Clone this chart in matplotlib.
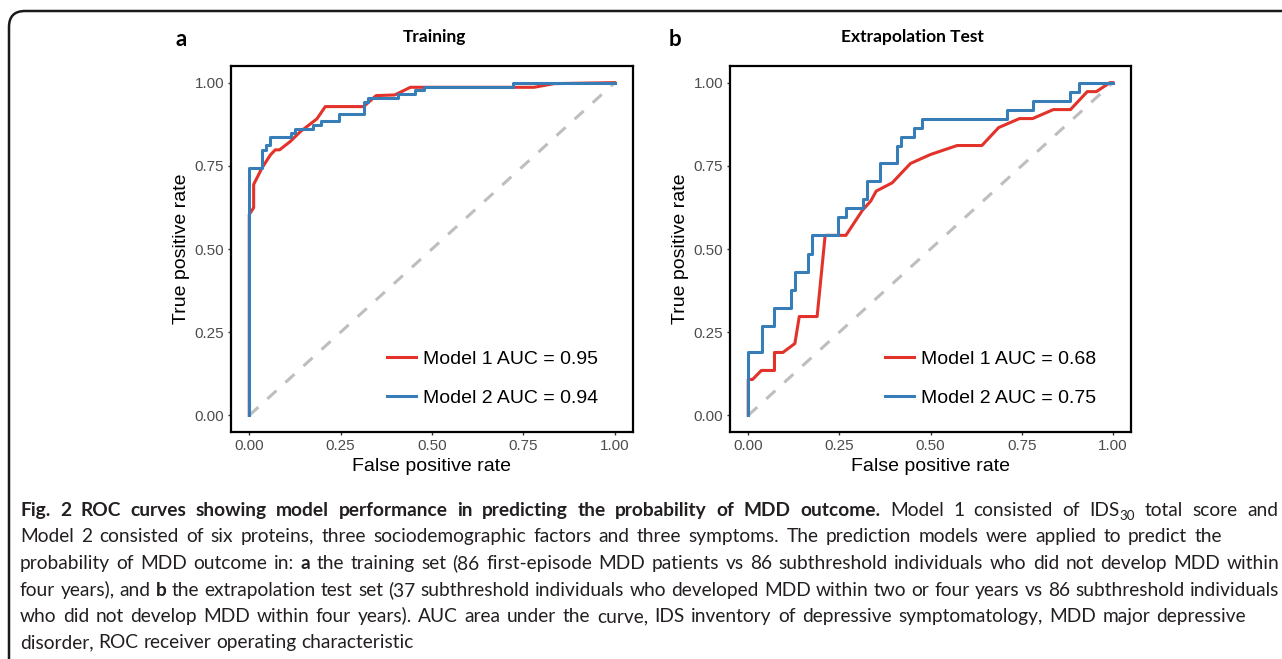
import math
import matplotlib
matplotlib.use("Agg")
import matplotlib.pyplot as plt
from matplotlib.patches import FancyBboxPatch
from matplotlib.transforms import IdentityTransform
from matplotlib.font_manager import FontProperties
from matplotlib.backends.backend_agg import get_hinting_flag

# ROC points (false positive rate, true positive rate)
train_m1_fpr = [0, 0, 0.012, 0.012, 0.035, 0.058, 0.071, 0.083, 0.112, 0.140, 0.185, 0.208,
                0.313, 0.347, 0.398, 0.441, 0.779, 0.834, 1.0]
train_m1_tpr = [0, 0.604, 0.624, 0.694, 0.744, 0.783, 0.798, 0.798, 0.823, 0.853, 0.891, 0.928,
                0.928, 0.961, 0.963, 0.986, 0.986, 0.997, 1.0]
train_m2_fpr = [0, 0, 0.035, 0.035, 0.046, 0.046, 0.058, 0.058, 0.115, 0.115, 0.126, 0.126,
                0.174, 0.174, 0.197, 0.197, 0.245, 0.245, 0.315, 0.315, 0.324, 0.324,
                0.407, 0.407, 0.453, 0.453, 0.478, 0.478, 0.721, 0.721, 1.0]
train_m2_tpr = [0, 0.744, 0.744, 0.798, 0.798, 0.813, 0.813, 0.837, 0.837, 0.849, 0.849, 0.860,
                0.860, 0.872, 0.872, 0.884, 0.884, 0.907, 0.907, 0.942, 0.942, 0.953,
                0.953, 0.965, 0.965, 0.977, 0.977, 0.988, 0.988, 1.0, 1.0]

test_m1_fpr = [0, 0, 0.012, 0.036, 0.072, 0.072, 0.095, 0.128, 0.140, 0.189, 0.211, 0.268,
               0.313, 0.336, 0.351, 0.395, 0.445, 0.500, 0.573, 0.641, 0.687, 0.744, 0.780,
               0.837, 0.884, 0.930, 0.955, 0.992, 1.0]
test_m1_tpr = [0, 0.108, 0.108, 0.135, 0.135, 0.189, 0.189, 0.216, 0.297, 0.297, 0.541, 0.541,
               0.616, 0.644, 0.674, 0.699, 0.757, 0.784, 0.811, 0.811, 0.865, 0.892, 0.892,
               0.919, 0.919, 0.973, 0.973, 1.0, 1.0]
test_m2_fpr = [0, 0, 0.037, 0.037, 0.072, 0.072, 0.117, 0.117, 0.128, 0.128, 0.165, 0.165,
               0.176, 0.176, 0.245, 0.245, 0.268, 0.268, 0.316, 0.316, 0.327, 0.327,
               0.361, 0.361, 0.409, 0.409, 0.420, 0.420, 0.454, 0.454, 0.478, 0.478,
               0.709, 0.709, 0.780, 0.780, 0.884, 0.884, 0.907, 0.907, 1.0]
test_m2_tpr = [0, 0.189, 0.189, 0.270, 0.270, 0.324, 0.324, 0.378, 0.378, 0.432, 0.432, 0.486,
               0.486, 0.541, 0.541, 0.595, 0.595, 0.622, 0.622, 0.649, 0.649, 0.703,
               0.703, 0.757, 0.757, 0.811, 0.811, 0.838, 0.838, 0.865, 0.865, 0.892,
               0.892, 0.919, 0.919, 0.946, 0.946, 0.973, 0.973, 1.0, 1.0]

train_auc = [0.95, 0.94]
test_auc = [0.68, 0.75]
tick_values = [0, 0.25, 0.5, 0.75, 1.0]
tick_labels = ['0.00', '0.25', '0.50', '0.75', '1.00']

red = '#E2322A'
blue = '#377EB8'

W, H = 1282, 659
fig = plt.figure(figsize=(W / 100, H / 100), dpi=100)


def draw_panel(rect, fpr1, tpr1, fpr2, tpr2, aucs):
    ax = fig.add_axes(rect)
    ax.plot([0, 1], [0, 1], color='#BEBEBE', lw=2.2, dashes=(4, 4), zorder=1)
    ax.plot(fpr1, tpr1, color=red, lw=2.2, label='Model 1 AUC = %.2f' % aucs[0], zorder=2)
    ax.plot(fpr2, tpr2, color=blue, lw=2.2, label='Model 2 AUC = %.2f' % aucs[1], zorder=3)
    ax.set_xlim(-0.05, 1.05)
    ax.set_ylim(-0.05, 1.05)
    ax.set_xticks(tick_values, tick_labels)
    ax.set_yticks(tick_values, tick_labels)
    ax.tick_params(length=2.5, width=1, color='#333333', labelcolor='#4D4D4D',
                   labelsize=11, pad=2.5)
    for sp in ax.spines.values():
        sp.set_linewidth(1.6)
        sp.set_color('black')
    ax.set_xlabel('False positive rate', fontsize=14, labelpad=3.5)
    ax.set_ylabel('True positive rate', fontsize=14, labelpad=3)
    ax.legend(loc='lower right', bbox_to_anchor=(0.913, 0.068), frameon=False,
              fontsize=14, borderpad=0, borderaxespad=0, labelspacing=1.1,
              handlelength=1.5, handletextpad=0.35)
    return ax


plt.rcParams['font.family'] = ['Liberation Sans', 'DejaVu Sans']
draw_panel([231 / W, 1 - 432 / H, 402 / W, 366 / H],
           train_m1_fpr, train_m1_tpr, train_m2_fpr, train_m2_tpr, train_auc)
draw_panel([730 / W, 1 - 432 / H, 401 / W, 366 / H],
           test_m1_fpr, test_m1_tpr, test_m2_fpr, test_m2_tpr, test_auc)

# panel letters and titles
cap_font = 'Lato'
fig.text(181 / W, 1 - 40 / H, 'a', fontsize=16, fontweight='bold', family=cap_font,
         ha='center', va='center')
fig.text(675 / W, 1 - 40 / H, 'b', fontsize=16, fontweight='bold', family=cap_font,
         ha='center', va='center')
fig.text(434 / W, 1 - 37 / H, 'Training', fontsize=12.5, fontweight='bold', family=cap_font,
         ha='center', va='center')
fig.text(912 / W, 1 - 37 / H, 'Extrapolation Test', fontsize=12.5, fontweight='bold',
         family=cap_font, ha='center', va='center')

# border of the figure box (left and top edges only)
box = FancyBboxPatch((9, -200), 1600, H - 11 + 200, boxstyle='round,pad=0,rounding_size=16',
                     transform=IdentityTransform(), fill=False, lw=1.8, ec='#1A1A1A')
fig.add_artist(box)

# caption: segments of (text, style, space before); right end of each line in pixels
caption = [
    [('Fig. 2 ROC curves showing model performance in predicting the probability of MDD outcome.', 'b', False),
     ('Model 1 consisted of IDS', 'n', True), ('30', 's', False), ('total score and', 'n', True)],
    [('Model 2 consisted of six proteins, three sociodemographic factors and three symptoms. '
      'The prediction models were applied to predict the', 'n', False)],
    [('probability of MDD outcome in:', 'n', False), ('a', 'b', True),
     ('the training set (86 first-episode MDD patients vs 86 subthreshold individuals who did not develop MDD within', 'n', True)],
    [('four years), and', 'n', False), ('b', 'b', True),
     ('the extrapolation test set (37 subthreshold individuals who developed MDD within two or four years vs 86 subthreshold individuals', 'n', True)],
    [('who did not develop MDD within four years). AUC area under the curve, IDS inventory of '
      'depressive symptomatology, MDD major depressive', 'n', False)],
    [('disorder, ROC receiver operating characteristic', 'n', False)],
]
line_ends = [1278, 1222, 1279, 1279, 1246, None]
x_start = 20

# split into words
lines = []
for line in caption:
    words = []
    for seg, style, gap in line:
        for k, w in enumerate(seg.split(' ')):
            words.append((w, style, gap if k == 0 else True))
    lines.append(words)

fig.canvas.draw()
renderer = fig.canvas.get_renderer()


def text_width(s, size, weight):
    t = fig.text(0, 0, s, fontsize=size, fontweight=weight, family=cap_font)
    w = t.get_window_extent(renderer).width
    t.remove()
    return w


def snap_offset(s, size, weight):
    # Agg rounds the glyph bitmap by the word's own descent; shift so every word
    # of a line lands on the same pixel baseline
    font = renderer._prepare_font(FontProperties(family=cap_font, size=size, weight=weight))
    font.set_text(s, 0, flags=get_hinting_flag())
    font.draw_glyphs_to_bitmap()
    d = font.get_descent() / 64.0 + font.get_bitmap_offset()[1] / 64.0
    return math.ceil(d) - d - 0.02


def word_props(style, size):
    if style == 's':
        return size * 0.7, 'normal'
    return size, 'bold' if style == 'b' else 'normal'


# one font size for the whole caption, small enough for every line
space10 = text_width('x x', 10, 'normal') - text_width('xx', 10, 'normal')
sizes = []
for words, end in zip(lines, line_ends):
    if end is None:
        continue
    natural = sum(text_width(w, *word_props(st, 10)) for w, st, g in words)
    natural += space10 * sum(1 for w, st, g in words if g)
    sizes.append(10 * (end - x_start) / natural)
cap_size = min(sizes)
space_w = space10 * cap_size / 10

baseline0 = 516
line_step = 26.5
for i, words in enumerate(lines):
    widths = [text_width(w, *word_props(st, cap_size)) for w, st, g in words]
    n_gaps = sum(1 for w, st, g in words if g)
    gap_w = space_w
    if line_ends[i] is not None:
        gap_w = (line_ends[i] - x_start - sum(widths)) / n_gaps
    x = x_start
    base = round(baseline0 + i * line_step)
    for (w, st, g), ww in zip(words, widths):
        if g:
            x += gap_w
        size, weight = word_props(st, cap_size)
        y = base + (round(cap_size * 0.3) if st == 's' else 0)
        y += snap_offset(w, size, weight)
        fig.text(x / W, (H - y) / H, w, fontsize=size, fontweight=weight,
                 family=cap_font, color='#231F20', ha='left', va='baseline')
        x += ww

fig.savefig('out.png', dpi=100)
